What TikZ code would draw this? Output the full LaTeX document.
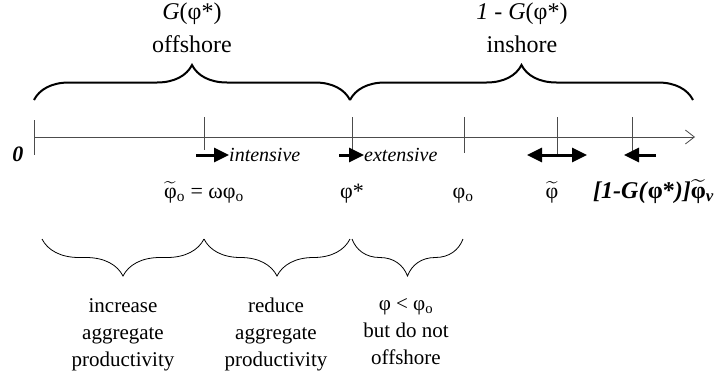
\documentclass[tikz,border=0pt]{standalone}
\usepackage{amsmath}
\usepackage{fontspec}
\setmainfont{Liberation Serif}
\usetikzlibrary{arrows.meta,decorations.pathreplacing}
\newcommand{\phtil}{\ensuremath{\widetilde{\text{φ}}}}
\newcommand{\phtilb}{\ensuremath{\widetilde{\text{\bfseries φ}}}}
\tikzset{
  axisln/.style={draw=black!70,line width=0.8pt},
  tk/.style={draw=black!70,line width=0.8pt},
  bigbrace/.style={decorate,decoration={brace,amplitude=35pt},line width=2pt},
  smallbrace/.style={decorate,decoration={brace,amplitude=37pt},line width=0.8pt},
  push/.style={line width=3pt,-{Triangle[length=15pt,width=14pt]}},
  pushboth/.style={line width=3pt,{Triangle[length=15pt,width=14pt]}-{Triangle[length=15pt,width=14pt]}},
  toplbl/.style={align=center,anchor=north,font=\fontsize{24}{33}\selectfont,inner sep=0pt},
  ptlbl/.style={anchor=base,font=\fontsize{22}{26}\selectfont,inner sep=0pt},
  eff/.style={anchor=base west,font=\fontsize{20}{24}\selectfont\itshape,inner sep=0pt},
  botlbl/.style={align=center,anchor=north,font=\fontsize{21}{27}\selectfont,inner sep=0pt}
}

\begin{document}
\begin{tikzpicture}[x=1pt,y=-1pt]
\useasboundingbox (0,0) rectangle (721,381);
\coordinate (o) at (34,137);
\coordinate (e) at (695,137);
\coordinate (a) at (204,137);
\coordinate (s) at (352,137);
\coordinate (b) at (464,137);
\coordinate (m) at (557,137);
\coordinate (w) at (632,137);
\draw[axisln,-{Straight Barb[length=9pt,width=14pt]}] (o) -- (e);
\draw[tk] (o) ++(0,-17) -- ++(0,35);
\draw[tk] (a) ++(0,-20) -- ++(0,33);
\draw[tk] (s) ++(0,-20) -- ++(0,36);
\draw[tk] (b) ++(0,-20) -- ++(0,36);
\draw[tk] (m) ++(0,-20) -- ++(0,38);
\draw[tk] (w) ++(0,-20) -- ++(0,36);
\node[font=\fontsize{22}{26}\selectfont\bfseries\itshape,anchor=base,inner sep=0pt] (zero) at (18,161) {0};

\coordinate (t1) at (34,100);
\coordinate (t2) at (350,100);
\coordinate (t3) at (693,100);
\draw[bigbrace] (t1) -- (t2);
\draw[bigbrace] (t2) -- (t3);
\node[toplbl] (off) at (192,3) {\textit{G}(φ*)\\offshore};
\node[toplbl] (ins) at (522,3) {\textit{1} - \textit{G}(φ*)\\inshore};

\coordinate (ia) at (196,155);
\node[eff] (int) at (229,161) {intensive};
\draw[push] (ia) -- (int.west |- ia);
\coordinate (ea) at (339,155);
\node[eff] (ext) at (364,161) {extensive};
\draw[push] (ea) -- (ext.west |- ea);
\coordinate (m1) at (527,155);
\coordinate (m2) at (587,155);
\draw[pushboth] (m1) -- (m2);
\coordinate (w1) at (656,155);
\coordinate (w2) at (624,155);
\draw[push] (w1) -- (w2);

\node[ptlbl] (l1) at (204,198) {\phtil\textsubscript{o} = ωφ\textsubscript{o}};
\node[ptlbl] (l2) at (352,198) {φ*};
\node[ptlbl] (l3) at (463,198) {φ\textsubscript{o}};
\node[ptlbl] (l4) at (552,198) {\phtil};
\node[ptlbl,anchor=base west,font=\fontsize{24}{28}\selectfont\bfseries] (l5) at (593,198)
  {\textit{[1-G(}φ*\textit{)]}\phtilb\textsubscript{\textit{v}}};

\coordinate (u1) at (42,239);
\coordinate (u2) at (204,239);
\coordinate (u3) at (350,239);
\coordinate (u4) at (352,239);
\coordinate (u5) at (463,239);
\draw[smallbrace] (u2) -- (u1);
\draw[smallbrace] (u3) -- (u2);
\draw[smallbrace] (u5) -- (u4);
\node[botlbl] (inc) at (123,298) {increase\\aggregate\\productivity};
\node[botlbl] (red) at (276,298) {reduce\\aggregate\\productivity};
\node[botlbl] (ext2) at (406,298) {φ < φ\textsubscript{o}\\but do not\\offshore};
\end{tikzpicture}
\end{document}
